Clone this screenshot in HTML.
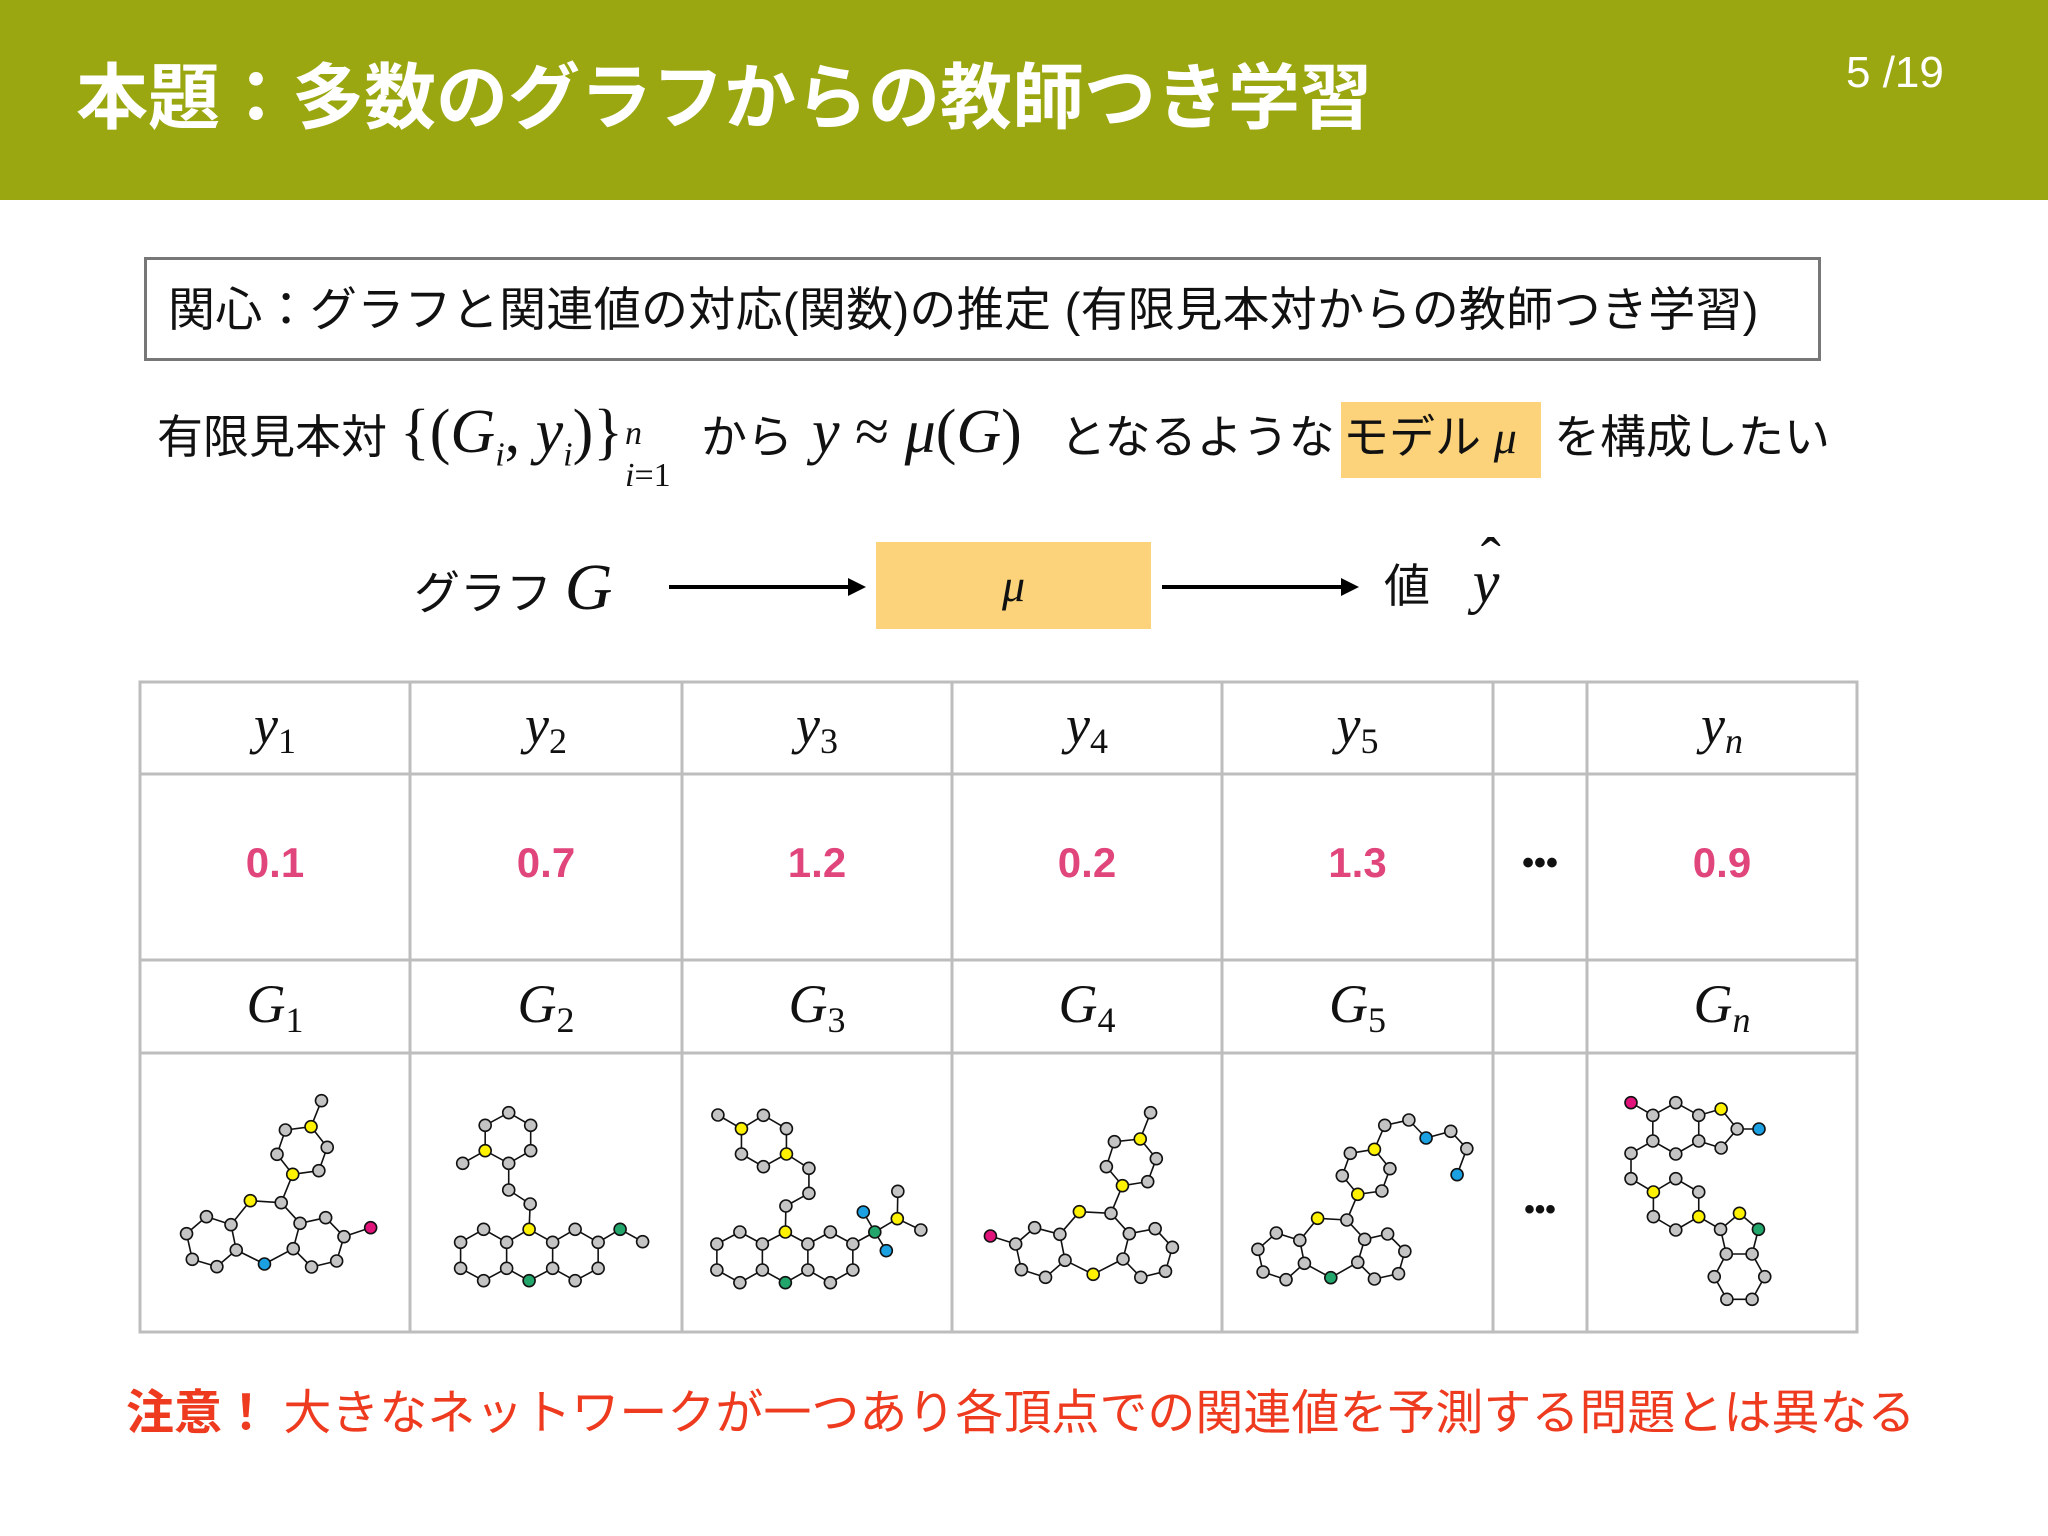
<!DOCTYPE html>
<html><head><meta charset="utf-8">
<style>
*{margin:0;padding:0;box-sizing:border-box}
body{width:2048px;height:1536px;background:#fff;position:relative;overflow:hidden;font-family:"Liberation Sans","Noto Sans CJK JP",sans-serif;color:#111}
.a{position:absolute;white-space:nowrap}
.m{font-family:"Liberation Serif","DejaVu Serif",serif;font-style:italic}
.jp{font-size:46px;line-height:60px;top:407px}
.cell{position:absolute;display:flex;align-items:center;justify-content:center}
.hd{font-family:"Liberation Serif",serif;font-style:italic;font-size:54px}
.hd sub{font-style:normal;font-size:36px;vertical-align:-10px}
.val{color:#e0457b;font-weight:bold;font-size:42px}
</style></head><body>
<div class="a" style="left:0;top:0;width:2048px;height:200px;background:#9ba711"></div>
<div class="a" style="left:76px;top:56px;font-size:72px;line-height:86px;color:#fff;font-weight:bold">本題：多数のグラフからの教師つき学習</div>
<div class="a" style="left:1846px;top:48px;font-size:44px;line-height:50px;color:#fff">5 /19</div>

<div class="a" style="left:144px;top:257px;width:1677px;height:104px;border:3px solid #777;"></div>
<div class="a" style="left:168px;top:280px;font-size:47px;line-height:60px;letter-spacing:0.3px">関心：グラフと関連値の対応(関数)の推定 (有限見本対からの教師つき学習)</div>

<div class="a" style="left:1341px;top:402px;width:200px;height:76px;background:#fcd37a"></div>
<div class="a jp" style="left:157px">有限見本対</div>
<div class="a m" style="left:400px;top:396px;font-size:62px;line-height:72px;font-style:normal">{(<i>G<sub style="font-size:34px">i</sub></i>, <i>y<sub style="font-size:34px">i</sub></i>)}<span style="display:inline-block;position:relative;width:70px;height:10px"><i style="position:absolute;left:2px;top:-44px;font-size:34px">n</i><span style="position:absolute;left:2px;top:-2px;font-size:34px"><i>i</i>=1</span></span></div>
<div class="a jp" style="left:701px">から</div>
<div class="a m" style="left:812px;top:396px;font-size:62px;line-height:72px"><i>y</i> <span style="font-style:normal">≈</span> <i>μ</i><span style="font-style:normal">(</span><i>G</i><span style="font-style:normal">)</span></div>
<div class="a jp" style="left:1060px">となるような</div>
<div class="a jp" style="left:1343px">モデル <i class="m">μ</i></div>
<div class="a jp" style="left:1554px">を構成したい</div>

<div class="a" style="left:414px;top:558px;font-size:46px;line-height:60px">グラフ <i class="m" style="font-size:66px">G</i></div>
<svg class="a" style="left:0;top:0" width="2048" height="700">
<line x1="669" y1="587" x2="852" y2="587" stroke="#000" stroke-width="4"/><polygon points="866,587 848,578 848,596" fill="#000"/>
<line x1="1162" y1="587" x2="1345" y2="587" stroke="#000" stroke-width="4"/><polygon points="1359,587 1341,578 1341,596" fill="#000"/>
</svg>
<div class="a" style="left:876px;top:542px;width:275px;height:87px;background:#fcd37a;display:flex;align-items:center;justify-content:center"><i class="m" style="font-size:46px">μ</i></div>
<div class="a" style="left:1384px;top:552px;font-size:46px;line-height:60px">値 <span class="m" style="font-size:60px;margin-left:30px;position:relative"><i>y</i><span style="position:absolute;left:8px;top:-20px;font-style:normal">ˆ</span></span></div>

<svg class="a" style="left:0;top:0" width="2048" height="1400">
<g stroke="#bdbdbd" stroke-width="3" fill="none">
<rect x="140" y="682" width="1717" height="650"/>
<line x1="140" y1="774" x2="1857" y2="774"/><line x1="140" y1="960" x2="1857" y2="960"/><line x1="140" y1="1053" x2="1857" y2="1053"/>
<line x1="410" y1="682" x2="410" y2="1332"/><line x1="682" y1="682" x2="682" y2="1332"/><line x1="952" y1="682" x2="952" y2="1332"/><line x1="1222" y1="682" x2="1222" y2="1332"/><line x1="1493" y1="682" x2="1493" y2="1332"/><line x1="1587" y1="682" x2="1587" y2="1332"/>
</g>
</svg>
<div id="cells"></div>

<svg id="mol" class="a" style="left:0;top:0" width="2048" height="1400"></svg>

<div class="a" style="left:126px;top:1384px;font-size:48px;line-height:60px;color:#ee3b1f"><b>注意！</b> 大きなネットワークが一つあり各頂点での関連値を予測する問題とは異なる</div>

<script>
const colEdges=[140,410,682,952,1222,1493,1587,1857];
const yLabels=["1","2","3","4","5","","<i>n</i>"];
const yValues=["0.1","0.7","1.2","0.2","1.3","•••","0.9"];
const cells=document.getElementById('cells');
function mk(x,y,w,h,html,name){const d=document.createElement('div');d.className='cell';d.style.cssText=`left:${x}px;top:${y}px;width:${w}px;height:${h}px`;d.innerHTML=html;


cells.appendChild(d);}
for(let i=0;i<7;i++){const x=colEdges[i],w=colEdges[i+1]-x;
 if(yLabels[i]){mk(x,682,w,92,`<span class="hd">y<sub>${yLabels[i]}</sub></span>`,'y-header');
  mk(x,960,w,93,`<span class="hd">G<sub>${yLabels[i]}</sub></span>`,'g-header');}
 mk(x,770,w,186,`<span class="val" style="${i==5?'color:#111;font-size:34px':''}">${yValues[i]}</span>`,'value-cell');
}
const dots=document.createElement('div');dots.className='cell';dots.style.cssText='left:1493px;top:1180px;width:94px;height:60px;font-size:30px;font-weight:bold';dots.textContent='•••';


cells.appendChild(dots);

const C={g:'#c4c4c4',y:'#fff200',b:'#1ba1e2',m:'#e0147a',n:'#23a66b'};
const mols=[
 {o:[140,1060],s:0.523,n:[[347,122,'g'],[327,200,'y'],[278,210,'g'],[262,283,'g'],[292,343,'y'],[342,332,'g'],[358,262,'g'],[270,428,'g'],[211,422,'y'],[174,494,'g'],[127,470,'g'],[89,521,'g'],[100,598,'g'],[147,620,'g'],[184,570,'g'],[238,612,'b'],[293,566,'g'],[306,490,'g'],[355,473,'g'],[390,530,'g'],[376,603,'g'],[328,621,'g'],[441,503,'m']],
  e:[[0,1],[1,2],[2,3],[3,4],[4,5],[5,6],[6,1],[4,7],[7,8],[8,9],[9,10],[10,11],[11,12],[12,13],[13,14],[14,9],[14,15],[15,16],[16,17],[17,7],[17,18],[18,19],[19,20],[20,21],[21,16],[19,22]]},
 {o:[140,1060],s:0.523,n:[[705,158,'g'],[747,196,'g'],[747,272,'g'],[705,310,'g'],[660,272,'y'],[660,196,'g'],[617,310,'g'],[705,390,'g'],[746,432,'g'],[744,508,'y'],[701,547,'g'],[657,508,'g'],[613,547,'g'],[613,625,'g'],[657,662,'g'],[701,625,'g'],[744,662,'n'],[789,625,'g'],[789,547,'g'],[832,508,'g'],[876,547,'g'],[876,625,'g'],[832,662,'g'],[918,508,'n'],[961,545,'g']],
  e:[[0,1],[1,2],[2,3],[3,4],[4,5],[5,0],[4,6],[3,7],[7,8],[8,9],[9,10],[10,11],[11,12],[12,13],[13,14],[14,15],[15,10],[15,16],[16,17],[17,18],[18,9],[18,19],[19,20],[20,21],[21,22],[22,17],[20,23],[23,24]]},
 {o:[140,1060],s:0.523,n:[[1105,165,'g'],[1150,206,'y'],[1150,282,'g'],[1192,320,'g'],[1236,282,'y'],[1236,206,'g'],[1192,166,'g'],[1279,325,'g'],[1279,400,'g'],[1235,438,'g'],[1234,516,'y'],[1190,552,'g'],[1147,516,'g'],[1103,552,'g'],[1103,630,'g'],[1147,668,'g'],[1190,630,'g'],[1234,668,'n'],[1277,630,'g'],[1277,552,'g'],[1320,516,'g'],[1363,552,'g'],[1363,630,'g'],[1320,668,'g'],[1405,516,'n'],[1383,456,'b'],[1427,572,'b'],[1448,476,'y'],[1449,394,'g'],[1493,510,'g']],
  e:[[0,1],[1,2],[2,3],[3,4],[4,5],[5,6],[6,1],[4,7],[7,8],[8,9],[9,10],[10,11],[11,12],[12,13],[13,14],[14,15],[15,16],[16,11],[16,17],[17,18],[18,19],[19,10],[19,20],[20,21],[21,22],[22,23],[23,18],[21,24],[24,25],[24,26],[24,27],[27,28],[27,29]]},
 {o:[960,1060],s:0.574,n:[[332,158,'g'],[314,237,'y'],[269,245,'g'],[255,320,'g'],[283,377,'y'],[327,365,'g'],[342,296,'g'],[263,460,'g'],[208,455,'y'],[174,523,'g'],[130,503,'g'],[97,552,'g'],[107,629,'g'],[149,652,'g'],[183,601,'g'],[232,643,'y'],[284,597,'g'],[295,521,'g'],[340,506,'g'],[370,562,'g'],[358,634,'g'],[315,652,'g'],[53,528,'m']],
  e:[[0,1],[1,2],[2,3],[3,4],[4,5],[5,6],[6,1],[4,7],[7,8],[8,9],[9,10],[10,11],[11,12],[12,13],[13,14],[14,9],[14,15],[15,16],[16,17],[17,7],[17,18],[18,19],[19,20],[20,21],[21,16],[11,22]]},
 {o:[960,1060],s:0.574,n:[[866,344,'b'],[883,266,'g'],[855,214,'g'],[812,234,'b'],[782,180,'g'],[740,196,'g'],[722,268,'y'],[680,280,'g'],[666,347,'g'],[693,403,'y'],[735,393,'g'],[749,326,'g'],[674,480,'g'],[623,475,'y'],[592,541,'g'],[551,519,'g'],[519,568,'g'],[528,636,'g'],[568,659,'g'],[600,610,'g'],[646,653,'n'],[693,607,'g'],[705,538,'g'],[745,522,'g'],[775,574,'g'],[764,641,'g'],[722,657,'g']],
  e:[[0,1],[1,2],[2,3],[3,4],[4,5],[5,6],[6,7],[7,8],[8,9],[9,10],[10,11],[11,6],[9,12],[12,13],[13,14],[14,15],[15,16],[16,17],[17,18],[18,19],[19,14],[19,20],[20,21],[21,22],[22,12],[22,23],[23,24],[24,25],[25,26],[26,21]]},
 {o:[960,1060],s:0.574,n:[[1169,128,'m'],[1207,166,'g'],[1247,128,'g'],[1287,166,'g'],[1326,147,'y'],[1354,207,'g'],[1392,207,'b'],[1326,264,'g'],[1287,243,'g'],[1247,282,'g'],[1207,243,'g'],[1169,280,'g'],[1169,356,'g'],[1208,396,'y'],[1247,356,'g'],[1287,396,'g'],[1287,470,'y'],[1247,510,'g'],[1208,470,'g'],[1325,508,'g'],[1358,460,'y'],[1391,508,'n'],[1380,582,'g'],[1335,582,'g'],[1314,650,'g'],[1336,718,'g'],[1380,718,'g'],[1402,650,'g']],
  e:[[0,1],[1,2],[2,3],[3,4],[4,5],[5,6],[5,7],[7,8],[8,3],[8,9],[9,10],[10,1],[10,11],[11,12],[12,13],[13,14],[14,15],[15,16],[16,17],[17,18],[18,13],[16,19],[19,20],[20,21],[21,22],[22,23],[23,19],[23,24],[24,25],[25,26],[26,27],[27,22]]}
];
const svg=document.getElementById('mol');const NS='http://www.w3.org/2000/svg';
mols.forEach((mo,k)=>{
 const g=document.createElementNS(NS,'g');
 
 
 const X=p=>mo.o[0]+p[0]*mo.s, Y=p=>mo.o[1]+p[1]/3;
 mo.e.forEach(([a,b])=>{const l=document.createElementNS(NS,'line');const p=mo.n[a],q=mo.n[b];
  l.setAttribute('x1',X(p));l.setAttribute('y1',Y(p));l.setAttribute('x2',X(q));l.setAttribute('y2',Y(q));
  l.setAttribute('stroke','#111');l.setAttribute('stroke-width','1.6');
  
  
  g.appendChild(l);});
 mo.n.forEach(p=>{const c=document.createElementNS(NS,'circle');
  c.setAttribute('cx',X(p));c.setAttribute('cy',Y(p));c.setAttribute('r',6);
  c.setAttribute('fill',C[p[2]]);c.setAttribute('stroke','#111');c.setAttribute('stroke-width','1.6');
  
  
  g.appendChild(c);});
 svg.appendChild(g);
});
</script>
</body></html>
